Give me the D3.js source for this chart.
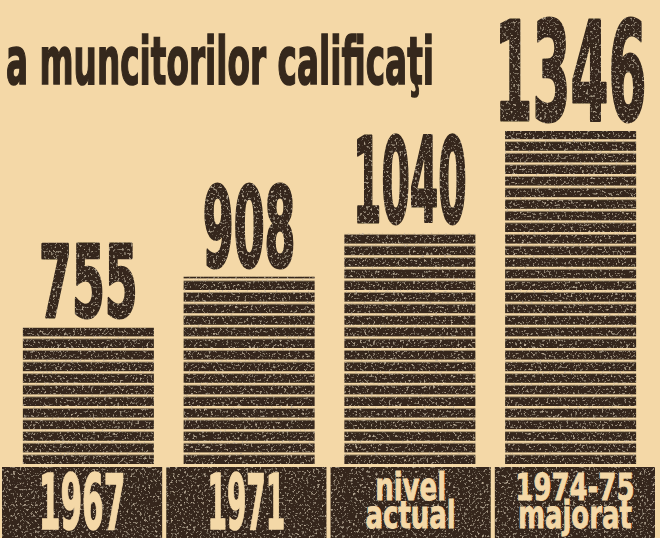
<!DOCTYPE html>
<html>
<head>
<meta charset="utf-8">
<script src="https://cdn.jsdelivr.net/npm/d3@7"></script>
<style>
  body { margin: 0; background: #f4d8a7; }
  svg { display: block; }
</style>
</head>
<body>
<div id="chart"></div>
<script>
// Data
var title = "a muncitorilor calificaţi";
var categories = ["1967", "1971", "nivel\nactual", "1974-75\nmajorat"];
var values = [755, 908, 1040, 1346];

var svgWidth = 660, svgHeight = 538;
var paper = "#f4d8a7", ink = "#35281c";
var condensed = "'DejaVu Sans Condensed', 'Liberation Sans Narrow', 'DejaVu Sans', sans-serif";

var baseline = 464;   // bottom of bars
var boxTop = 467;     // top of label boxes

var svg = d3.select("#chart").append("svg")
  .attr("width", svgWidth)
  .attr("height", svgHeight);

svg.append("rect").attr("width", svgWidth).attr("height", svgHeight).attr("fill", paper);

var defs = svg.append("defs");

// horizontal stripes of the bars, anchored on the baseline
var stripeH = 11.6, gap = 2.5;
var pat = defs.append("pattern")
  .attr("id", "stripes")
  .attr("patternUnits", "userSpaceOnUse")
  .attr("x", 0).attr("y", baseline)
  .attr("width", svgWidth).attr("height", stripeH);
pat.append("rect").attr("width", svgWidth).attr("height", stripeH).attr("fill", paper);
pat.append("rect").attr("y", gap).attr("width", svgWidth).attr("height", stripeH - gap).attr("fill", ink);

// newsprint grain on the ink
var f = defs.append("filter").attr("id", "grain")
  .attr("filterUnits", "userSpaceOnUse")
  .attr("x", 0).attr("y", 0).attr("width", svgWidth).attr("height", svgHeight);
f.append("feTurbulence").attr("type", "fractalNoise").attr("baseFrequency", 0.45)
  .attr("numOctaves", 2).attr("seed", 7).attr("result", "noise");
f.append("feColorMatrix").attr("in", "noise").attr("type", "matrix")
  .attr("values", "0 0 0 0 0.52  0 0 0 0 0.43  0 0 0 0 0.32  4 0 0 0 -2.3")
  .attr("result", "spots");
f.append("feComposite").attr("in", "spots").attr("in2", "SourceGraphic")
  .attr("operator", "in").attr("result", "spotsIn");
var merge = f.append("feMerge");
merge.append("feMergeNode").attr("in", "SourceGraphic");
merge.append("feMergeNode").attr("in", "spotsIn");

// Scales
var x = d3.scaleBand()
  .domain(categories)
  .range([8, 651])
  .paddingInner(0.185)
  .paddingOuter(0.0925);

var xBox = d3.scaleBand()
  .domain(categories)
  .range([2, 655])
  .paddingInner(0.025)
  .paddingOuter(0);

var y = d3.scaleLinear()
  .domain([345, d3.max(values)])
  .range([baseline, 131]);

// cap height of the big numbers grows with the value
var capScale = d3.scaleLinear()
  .domain([d3.min(values), d3.max(values)])
  .range([73, 100]);

// rough glyph widths of the condensed face, as a share of cap height
var glyphW = { "1": 0.26, "0": 0.32, "3": 0.42, "4": 0.42, "6": 0.42, "9": 0.42, "8": 0.42, "5": 0.45, "7": 0.45 };
function textWidth(s, cap) {
  return d3.sum(s.split(""), function(c) { return glyphW[c] || 0.42; }) * cap;
}

// Title
svg.append("text")
  .attr("x", 6)
  .attr("y", 84)
  .attr("font-family", condensed)
  .attr("font-weight", "bold")
  .attr("font-size", 66)
  .attr("textLength", 428)
  .attr("lengthAdjust", "spacingAndGlyphs")
  .attr("fill", ink)
  .attr("stroke", ink)
  .attr("stroke-width", 1.6)
  .text(title);

var inkGroup = svg.append("g").attr("filter", "url(#grain)");

// Bars
inkGroup.selectAll(".bar")
  .data(values)
  .enter().append("rect")
  .attr("class", "bar")
  .attr("x", function(d, i) { return x(categories[i]); })
  .attr("width", x.bandwidth())
  .attr("y", function(d) { return y(d); })
  .attr("height", function(d) { return baseline - y(d); })
  .attr("fill", "url(#stripes)");

// Value labels
inkGroup.selectAll(".value")
  .data(values)
  .enter().append("text")
  .attr("class", "value")
  .each(function(d, i) {
    var cap = capScale(d);
    var s = String(d);
    var w = textWidth(s, cap);
    d3.select(this)
      .attr("x", x(categories[i]) + x.bandwidth() / 2 - w / 2)
      .attr("y", y(d) - 11)
      .attr("font-family", condensed)
      .attr("font-weight", "bold")
      .attr("font-size", cap / 0.729)
      .attr("textLength", w)
      .attr("lengthAdjust", "spacingAndGlyphs")
      .attr("fill", ink)
      .attr("stroke", ink)
      .attr("stroke-width", 3)
      .attr("stroke-linejoin", "round")
      .text(s);
  });

// Label boxes
inkGroup.selectAll(".box")
  .data(categories)
  .enter().append("rect")
  .attr("class", "box")
  .attr("x", function(d) { return xBox(d); })
  .attr("width", xBox.bandwidth())
  .attr("y", boxTop)
  .attr("height", svgHeight - boxTop + 4)
  .attr("fill", ink);

// Category text in the boxes
categories.forEach(function(c) {
  var lines = c.split("\n");
  var cx = xBox(c) + xBox.bandwidth() / 2;
  if (lines.length === 1) {
    var cap = 56;
    var w = textWidth(c, cap);
    svg.append("text")
      .attr("x", cx - w / 2)
      .attr("y", 529)
      .attr("font-family", condensed)
      .attr("font-weight", "bold")
      .attr("font-size", cap / 0.729)
      .attr("textLength", w)
      .attr("lengthAdjust", "spacingAndGlyphs")
      .attr("fill", paper)
      .attr("stroke", paper)
      .attr("stroke-width", 1.5)
      .text(c);
  } else {
    lines.forEach(function(line, j) {
      var t = svg.append("text")
        .attr("y", 500 + j * 28)
        .attr("font-family", condensed)
        .attr("font-weight", "bold")
        .attr("font-size", 37)
        .attr("fill", paper)
        .attr("stroke", paper)
        .attr("stroke-width", 0.8)
        .text(line);
      var w = t.node().getComputedTextLength() * 0.78;
      t.attr("x", cx - w / 2)
        .attr("textLength", w)
        .attr("lengthAdjust", "spacingAndGlyphs");
    });
  }
});
</script>
</body>
</html>
